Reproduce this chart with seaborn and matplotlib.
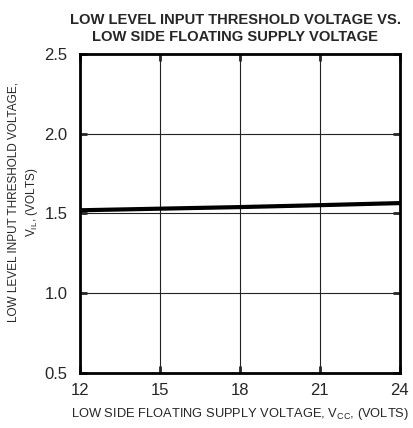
import matplotlib
matplotlib.use("Agg")
import matplotlib.pyplot as plt
import numpy as np
import pandas as pd
import seaborn as sns

# supply voltage (V) and low level input threshold (V)
vcc = [12, 15, 18, 21, 24]
vil = [1.52, 1.53, 1.54, 1.552, 1.565]

x_ticks = [12, 15, 18, 21, 24]
y_ticks = [0.5, 1.0, 1.5, 2.0, 2.5]

sns.set_style("white")
plt.rcParams["font.family"] = ["Liberation Sans", "DejaVu Sans"]

df = pd.DataFrame({"vcc": vcc, "vil": vil})

fig = plt.figure(figsize=(4.14, 4.28), dpi=100)
ax = fig.add_axes([0.193, 0.1285, 0.773, 0.7455])

sns.lineplot(data=df, x="vcc", y="vil", color="black", linewidth=3, ax=ax)

ax.set_xlim(12, 24)
ax.set_ylim(0.5, 2.5)
ax.set_xticks(x_ticks)
ax.set_yticks(y_ticks)
ax.set_xticklabels([str(t) for t in x_ticks], fontsize=12)
ax.set_yticklabels([f"{t:.1f}" for t in y_ticks], fontsize=12)
ax.grid(True, color="#222222", linewidth=0.8)
ax.tick_params(direction="in", length=5, width=2, top=True, right=True,
               bottom=True, left=True, labeltop=False, labelright=False)
ax.tick_params(axis="x", pad=7)
ax.tick_params(axis="y", pad=9)
for s in ax.spines.values():
    s.set_linewidth(2)
    s.set_color("black")

ax.set_title("LOW LEVEL INPUT THRESHOLD VOLTAGE VS.\nLOW SIDE FLOATING SUPPLY VOLTAGE",
             fontsize=10.6, fontweight="bold", linespacing=1.35, pad=9, x=0.485)
ax.set_xlabel("LOW SIDE FLOATING SUPPLY VOLTAGE, V$_{\\mathregular{CC}}$, (VOLTS)",
              fontsize=9.3, labelpad=6)
ax.set_ylabel("LOW LEVEL INPUT THRESHOLD VOLTAGE,\nV$_{\\mathregular{IL}}$, (VOLTS)",
              fontsize=8.5, labelpad=3, linespacing=1.45, y=0.536)

fig.savefig("out.png", dpi=100)
